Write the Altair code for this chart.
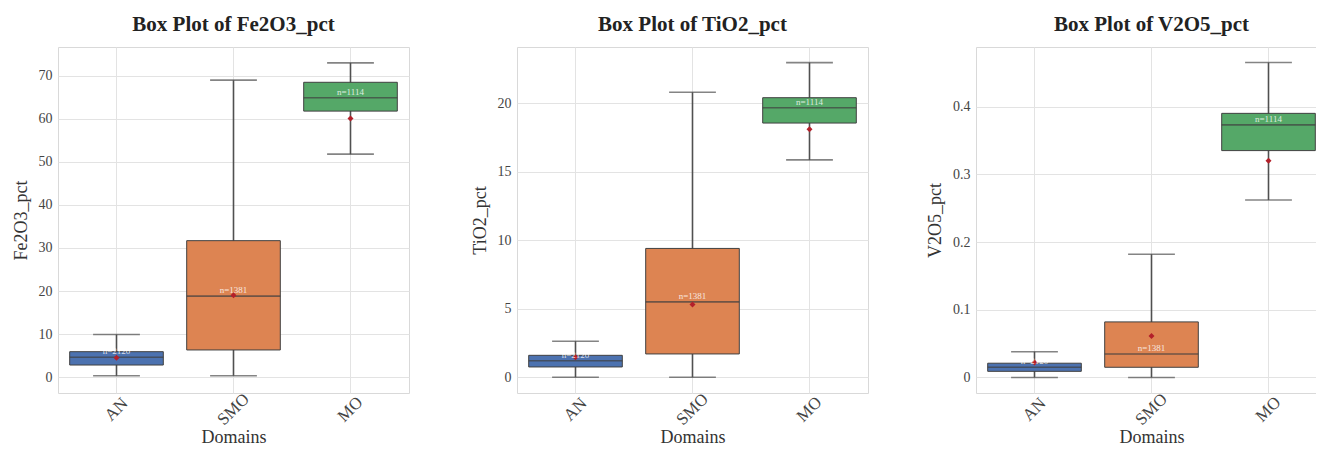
import altair as alt
import pandas as pd

# Domains, in plotting order, and their fill colours
domains = ["AN", "SMO", "MO"]
palette = ["#4c72b0", "#dd8452", "#55a868"]
counts = ["n=2120", "n=1381", "n=1114"]

# Box summaries per oxide: lower whisker, Q1, median, Q3, upper whisker, mean
fe2o3_low = [0.3, 0.3, 51.8]
fe2o3_q1 = [2.8, 6.3, 61.8]
fe2o3_med = [4.6, 18.8, 64.9]
fe2o3_q3 = [5.9, 31.7, 68.5]
fe2o3_high = [9.9, 69.0, 73.0]
fe2o3_mean = [4.5, 19.0, 60.1]

tio2_low = [0.0, 0.0, 15.86]
tio2_q1 = [0.75, 1.7, 18.55]
tio2_med = [1.2, 5.5, 19.67]
tio2_q3 = [1.6, 9.4, 20.4]
tio2_high = [2.63, 20.8, 22.96]
tio2_mean = [1.45, 5.3, 18.1]

v2o5_low = [0.0, 0.0, 0.262]
v2o5_q1 = [0.009, 0.015, 0.335]
v2o5_med = [0.015, 0.0345, 0.373]
v2o5_q3 = [0.021, 0.082, 0.39]
v2o5_high = [0.038, 0.182, 0.465]
v2o5_mean = [0.022, 0.061, 0.32]

# Axis ranges and tick values for each oxide
fe2o3_domain = [-3.7, 76.7]
tio2_domain = [-1.15, 24.1]
v2o5_domain = [-0.023, 0.488]
fe2o3_ticks = [0, 10, 20, 30, 40, 50, 60, 70]
tio2_ticks = [0, 5, 10, 15, 20]
v2o5_ticks = [0, 0.1, 0.2, 0.3, 0.4]

FONT = "Liberation Serif"
W, H = 351, 346
BAND = W / 3


def box_panel(name, low, q1, med, q3, high, mean, ydom, yticks):
    df = pd.DataFrame({
        "Domains": domains, "low": low, "q1": q1, "med": med,
        "q3": q3, "high": high, "mean": mean, "label": counts,
    })
    x = alt.X("Domains:N", sort=domains, scale=alt.Scale(paddingInner=0, paddingOuter=0),
              axis=alt.Axis(title="Domains", labelAngle=-45, labelAlign="center",
                            labelBaseline="middle", labelPadding=16, ticks=False,
                            domain=False, grid=True, bandPosition=0.5,
                            labelFontSize=17, titleFontSize=18,
                            titlePadding=1, titleFontWeight="normal"))
    yscale = alt.Scale(domain=ydom, nice=False, zero=False)
    yaxis = alt.Axis(title=f"{name}", values=yticks, format=".3~f", ticks=False,
                     domain=False, labelFontSize=14, titleFontSize=18,
                     labelPadding=6, titlePadding=8, titleFontWeight="normal")
    base = alt.Chart(df)
    color = alt.Color("Domains:N", sort=domains,
                      scale=alt.Scale(domain=domains, range=palette), legend=None)

    whisker = base.mark_rule(color="#505050", strokeWidth=1.6).encode(
        x=x, y=alt.Y("low:Q", scale=yscale, axis=yaxis), y2="high:Q")
    box = base.mark_bar(width=alt.RelativeBandSize(0.8), stroke="#404040",
                        strokeWidth=1).encode(x=x, y="q1:Q", y2="q3:Q", color=color)
    median = base.mark_tick(size=BAND * 0.8, thickness=1.6, color="#404040").encode(
        x=x, y="med:Q")
    cap_low = base.mark_tick(size=BAND * 0.4, thickness=1.6, color="#505050").encode(
        x=x, y="low:Q")
    cap_high = base.mark_tick(size=BAND * 0.4, thickness=1.6, color="#505050").encode(
        x=x, y="high:Q")
    mean_pt = base.mark_point(filled=True, shape="diamond", size=36, color="#b3202a",
                              opacity=1).encode(x=x, y="mean:Q")
    label = base.mark_text(fontSize=9, color="white", opacity=0.8, baseline="bottom",
                           dy=-1, font=FONT).encode(x=x, y="med:Q", text="label:N")

    return alt.layer(whisker, box, median, cap_low, cap_high, mean_pt, label).properties(
        width=W, height=H,
        title=alt.TitleParams(f"Box Plot of {name}", fontSize=21, fontWeight="bold",
                              font=FONT, color="#222222", offset=12),
    )


p1 = box_panel("Fe2O3_pct", fe2o3_low, fe2o3_q1, fe2o3_med, fe2o3_q3, fe2o3_high,
               fe2o3_mean, fe2o3_domain, fe2o3_ticks)
p2 = box_panel("TiO2_pct", tio2_low, tio2_q1, tio2_med, tio2_q3, tio2_high,
               tio2_mean, tio2_domain, tio2_ticks)
p3 = box_panel("V2O5_pct", v2o5_low, v2o5_q1, v2o5_med, v2o5_q3, v2o5_high,
               v2o5_mean, v2o5_domain, v2o5_ticks)

# The right-hand panel runs slightly past the page edge, so the right
# padding trims the drawing to the page.
chart = alt.hconcat(p1, p2, p3, spacing=108, bounds="flush").properties(
    padding={"left": 11, "top": 13, "right": -12, "bottom": 0}
).configure(font=FONT).configure_view(
    stroke="#d9d9d9", strokeWidth=1
).configure_axis(
    gridColor="#e3e3e3", gridWidth=1, labelColor="#444444", titleColor="#333333",
    labelFont=FONT, titleFont=FONT
)

chart.save("out.html", embed_options={"renderer": "svg", "actions": False})
